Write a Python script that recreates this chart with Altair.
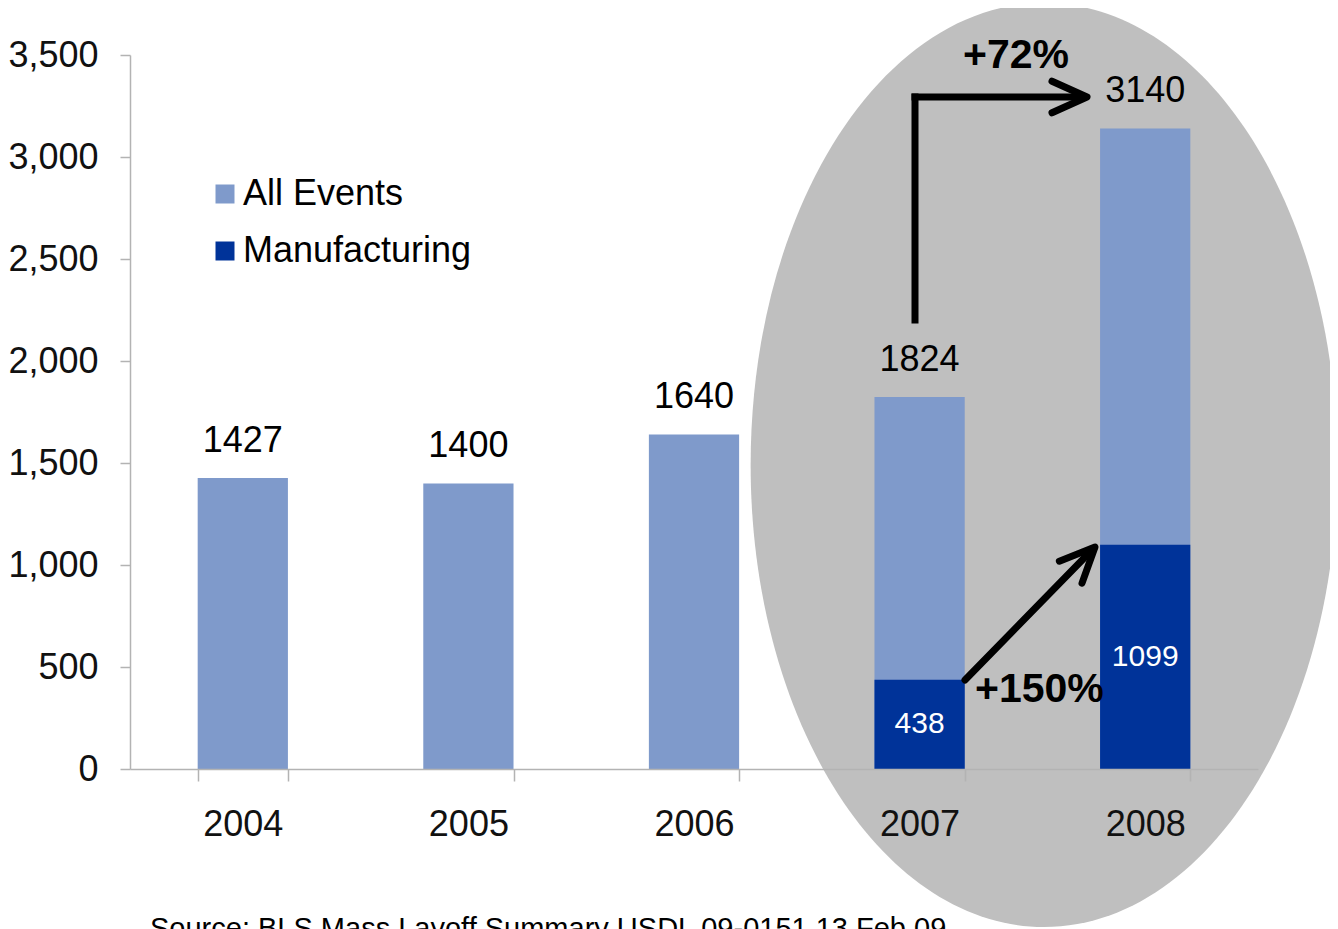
import altair as alt
import pandas as pd

years = ["2004", "2005", "2006", "2007", "2008"]
all_events = [1427, 1400, 1640, 1824, 3140]
mfg_years = ["2007", "2008"]
manufacturing = [438, 1099]
y_ticks = [0, 500, 1000, 1500, 2000, 2500, 3000, 3500]
series = ["All Events", "Manufacturing"]
colors = ["#7F9ACB", "#003399"]
source_note = "Source: BLS Mass Layoff Summary USDL 09-0151 13 Feb 09"

FONT = "Liberation Sans"
W, H = 1128, 714

df_all = pd.DataFrame({"year": years, "value": all_events, "series": series[0]})
df_mfg = pd.DataFrame({"year": mfg_years, "value": manufacturing, "series": series[1]})
df_one = pd.DataFrame({"k": [0]})

x = alt.X("year:N", scale=alt.Scale(domain=years, paddingInner=0.6, paddingOuter=0.3),
          axis=alt.Axis(title=None, labelAngle=0, tickBand="extent", tickSize=12,
                        labelPadding=26, labelFontSize=36, zindex=1))
y = alt.Y("value:Q", scale=alt.Scale(domain=[0, 3500], nice=False),
          axis=alt.Axis(title=None, values=y_ticks, format=",.0f", tickSize=10,
                        labelPadding=22, labelFontSize=36, zindex=1))
color = alt.Color("series:N", scale=alt.Scale(domain=series, range=colors),
                  legend=alt.Legend(orient="none", legendX=77, legendY=121, title=None,
                                    symbolType="square", symbolSize=361, labelFontSize=36,
                                    labelFont=FONT, rowPadding=21, labelOffset=0,
                                    labelLimit=0, symbolStrokeWidth=0, symbolOpacity=1))

# highlight ellipse (bezier path in unit coords, scaled by symbol size)
k = 0.5523
a = 0.635
ell = (f"M 0 -1 C {a*k:.4f} -1 {a} {-k} {a} 0 C {a} {k} {a*k:.4f} 1 0 1 "
       f"C {-a*k:.4f} 1 {-a} {k} {-a} 0 C {-a} {-k} {-a*k:.4f} -1 0 -1 Z")
ellipse = alt.Chart(df_one).mark_point(shape=ell, filled=True, fill="#BFBFBF", opacity=1,
                                       strokeWidth=0, size=(2 * 462) ** 2).encode(
    x=alt.value(914), y=alt.value(410))

bars_all = alt.Chart(df_all).mark_bar().encode(x=x, y=y, color=color)
bars_mfg = alt.Chart(df_mfg).mark_bar().encode(x=x, y=y, color=color)

lbl_all = alt.Chart(df_all).mark_text(dy=-26, baseline="alphabetic", fontSize=36, font=FONT,
                                      color="black").encode(
    x=x, y=y, text=alt.Text("value:Q", format="d"))
lbl_mfg = alt.Chart(df_mfg).transform_calculate(mid="datum.value / 2").mark_text(
    baseline="middle", fontSize=30, font=FONT, color="white").encode(
    x=x, y=alt.Y("mid:Q"), text=alt.Text("value:Q", format="d"))

SW = 7
arrow_v = alt.Chart(df_one).mark_rule(color="black", strokeWidth=SW, strokeCap="square").encode(
    x=alt.value(785), y=alt.value(265), y2=alt.value(42))
arrow_h = alt.Chart(df_one).mark_rule(color="black", strokeWidth=SW, strokeCap="square").encode(
    x=alt.value(785), x2=alt.value(953), y=alt.value(42))
head_path = "M -1 -0.45 L 0 0 L -1 0.45"
head_h = alt.Chart(df_one).mark_point(shape=head_path, filled=False, stroke="black",
                                      strokeWidth=SW, opacity=1, size=4900,
                                      strokeJoin="round", strokeCap="round").encode(
    x=alt.value(957), y=alt.value(42))
arrow_d = alt.Chart(df_one).mark_rule(color="black", strokeWidth=SW, strokeCap="round").encode(
    x=alt.value(835), y=alt.value(625), x2=alt.value(962), y2=alt.value(495))
head_d = alt.Chart(df_one).mark_point(shape=head_path, filled=False, stroke="black",
                                      strokeWidth=SW, opacity=1, size=4900, angle=314,
                                      strokeJoin="round", strokeCap="round").encode(
    x=alt.value(965), y=alt.value(492))

txt72 = alt.Chart(df_one).mark_text(text="+72%", fontSize=41, fontWeight="bold", font=FONT,
                                    align="center", baseline="alphabetic", color="black").encode(
    x=alt.value(886), y=alt.value(13))
txt150 = alt.Chart(df_one).mark_text(text="+150%", fontSize=41, fontWeight="bold", font=FONT,
                                     align="left", baseline="alphabetic", color="black").encode(
    x=alt.value(845), y=alt.value(647))
src = alt.Chart(df_one).mark_text(text=source_note, fontSize=29, font=FONT, align="left",
                                  baseline="top", color="black").encode(
    x=alt.value(20), y=alt.value(860))

chart = alt.layer(
    ellipse, bars_all, bars_mfg, lbl_all, lbl_mfg,
    arrow_v, arrow_h, head_h, arrow_d, head_d, txt72, txt150, src
).properties(
    width=W, height=H,
    autosize=alt.AutoSizeParams(type="none"),
    padding={"left": 122, "top": 47, "right": 72, "bottom": 180},
).configure_view(stroke=None).configure_axis(
    domainColor="#B3B3B3", tickColor="#B3B3B3", domainWidth=1.5, tickWidth=1.5,
    labelFont=FONT, labelColor="#111111", grid=False
).configure_text(font=FONT)

chart.save("out.html", embed_options={"renderer": "svg", "actions": False})
